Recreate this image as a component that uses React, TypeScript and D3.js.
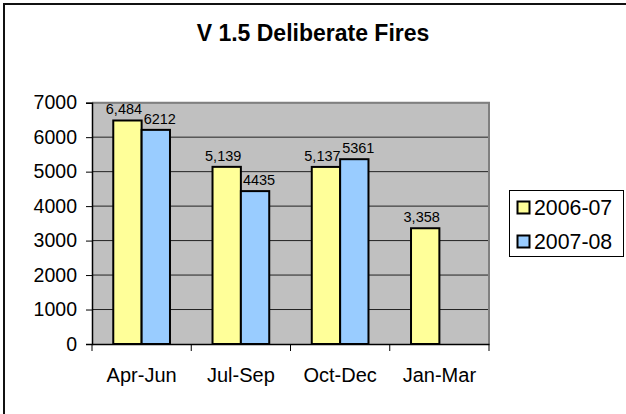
import { useEffect, useRef } from "react";
import * as d3 from "d3";

const categories = ["Apr-Jun", "Jul-Sep", "Oct-Dec", "Jan-Mar"];
const seriesNames = ["2006-07", "2007-08"];
const values2006 = [6484, 5139, 5137, 3358];
const values2007 = [6212, 4435, 5361, null];
const yTicks = [0, 1000, 2000, 3000, 4000, 5000, 6000, 7000];
const colors = ["#FFFF99", "#99CCFF"];

function App() {
    const width = 626, height = 414;
    const plot = { left: 92, right: 489, top: 102.7, bottom: 344 };
    const svgRef = useRef(null);

    useEffect(() => {
        const svg = d3.select(svgRef.current);
        svg.selectAll("*").remove();
        drawChart(svg);
    }, []);

    function drawChart(svg) {
        const font = "'Liberation Sans', Arial, sans-serif";

        // chart area (right and bottom edges are cut off in the original)
        svg.append("rect")
            .attr("x", 4).attr("y", 4)
            .attr("width", 700).attr("height", 500)
            .attr("fill", "#fff")
            .attr("stroke", "#111").attr("stroke-width", 2);

        svg.append("text")
            .attr("x", 313).attr("y", 41)
            .attr("text-anchor", "middle")
            .attr("font-family", font).attr("font-weight", "bold")
            .attr("font-size", 23)
            .text("V 1.5 Deliberate Fires");

        const x = d3.scaleBand()
            .domain(categories)
            .range([plot.left, plot.right])
            .padding(0);

        const xs = d3.scaleBand()
            .domain(seriesNames)
            .range([0, x.bandwidth()])
            .paddingInner(0)
            .paddingOuter(0.75);

        const y = d3.scaleLinear()
            .domain([0, 7000])
            .range([plot.bottom, plot.top]);

        // plot background
        svg.append("rect")
            .attr("x", plot.left).attr("y", plot.top)
            .attr("width", plot.right - plot.left)
            .attr("height", plot.bottom - plot.top)
            .attr("fill", "#C0C0C0");

        // grid lines
        svg.append("g")
            .selectAll("line")
            .data(yTicks.filter(d => d > 0))
            .enter().append("line")
            .attr("x1", plot.left).attr("x2", plot.right)
            .attr("y1", d => y(d)).attr("y2", d => y(d))
            .attr("stroke", "#222").attr("stroke-width", 1);

        // plot border (top/right gray)
        svg.append("path")
            .attr("d", `M${plot.left},${plot.top}H${plot.right}V${plot.bottom}`)
            .attr("fill", "none")
            .attr("stroke", "#808080").attr("stroke-width", 2);

        const series = [values2006, values2007];
        series.forEach((vals, si) => {
            const data = categories.map((c, i) => ({ cat: c, value: vals[i] }))
                .filter(d => d.value != null);
            const g = svg.append("g");
            g.selectAll("rect")
                .data(data)
                .enter().append("rect")
                .attr("x", d => x(d.cat) + xs(seriesNames[si]))
                .attr("y", d => y(d.value))
                .attr("width", xs.bandwidth())
                .attr("height", d => plot.bottom - y(d.value))
                .attr("fill", colors[si])
                .attr("stroke", "#000").attr("stroke-width", 2);

            const fmt = si === 0 ? d3.format(",") : d3.format("d");
            const shift = si === 0 ? -3.5 : 4;
            g.selectAll("text")
                .data(data)
                .enter().append("text")
                .attr("x", d => x(d.cat) + xs(seriesNames[si]) + xs.bandwidth() / 2 + shift)
                .attr("y", d => y(d.value) - 6)
                .attr("text-anchor", "middle")
                .attr("font-family", font).attr("font-size", 14.5)
                .attr("fill", "#000")
                .text(d => fmt(d.value));
        });

        // y axis
        const yAxis = svg.append("g")
            .attr("transform", `translate(${plot.left},0)`)
            .call(d3.axisLeft(y).tickValues(yTicks).tickSize(6).tickPadding(9).tickFormat(d3.format("d")));
        yAxis.select(".domain").attr("stroke", "#000").attr("stroke-width", 1.5);
        yAxis.selectAll(".tick line").attr("stroke", "#000");
        yAxis.selectAll("text").attr("font-family", font).attr("font-size", 19.5).attr("fill", "#000");

        // x axis
        const xAxis = svg.append("g")
            .attr("transform", `translate(0,${plot.bottom})`)
            .call(d3.axisBottom(x).tickSize(0).tickPadding(24));
        xAxis.select(".domain").attr("stroke", "#000").attr("stroke-width", 1.5);
        xAxis.selectAll("text").attr("font-family", font).attr("font-size", 20).attr("fill", "#000");
        xAxis.selectAll(".bound")
            .data([...categories.map(c => x(c)), plot.right])
            .enter().append("line")
            .attr("x1", d => d).attr("x2", d => d)
            .attr("y1", 0).attr("y2", 7)
            .attr("stroke", "#000");

        // legend
        const legend = svg.append("g");
        legend.append("rect")
            .attr("x", 509.5).attr("y", 190.5)
            .attr("width", 114).attr("height", 66)
            .attr("fill", "#fff")
            .attr("stroke", "#000").attr("stroke-width", 1);
        seriesNames.forEach((name, i) => {
            const cy = 207.5 + i * 34;
            legend.append("rect")
                .attr("x", 517.5).attr("y", cy - 6)
                .attr("width", 12).attr("height", 12)
                .attr("fill", colors[i])
                .attr("stroke", "#000").attr("stroke-width", 2);
            legend.append("text")
                .attr("x", 534).attr("y", cy + 7)
                .attr("font-family", font).attr("font-size", 21.3)
                .text(name);
        });
    }

    return (
        <svg ref={svgRef} width={width} height={height}
            style={{ position: "absolute", left: 0, top: 0, background: "#fff" }}></svg>
    );
}

export default App;
